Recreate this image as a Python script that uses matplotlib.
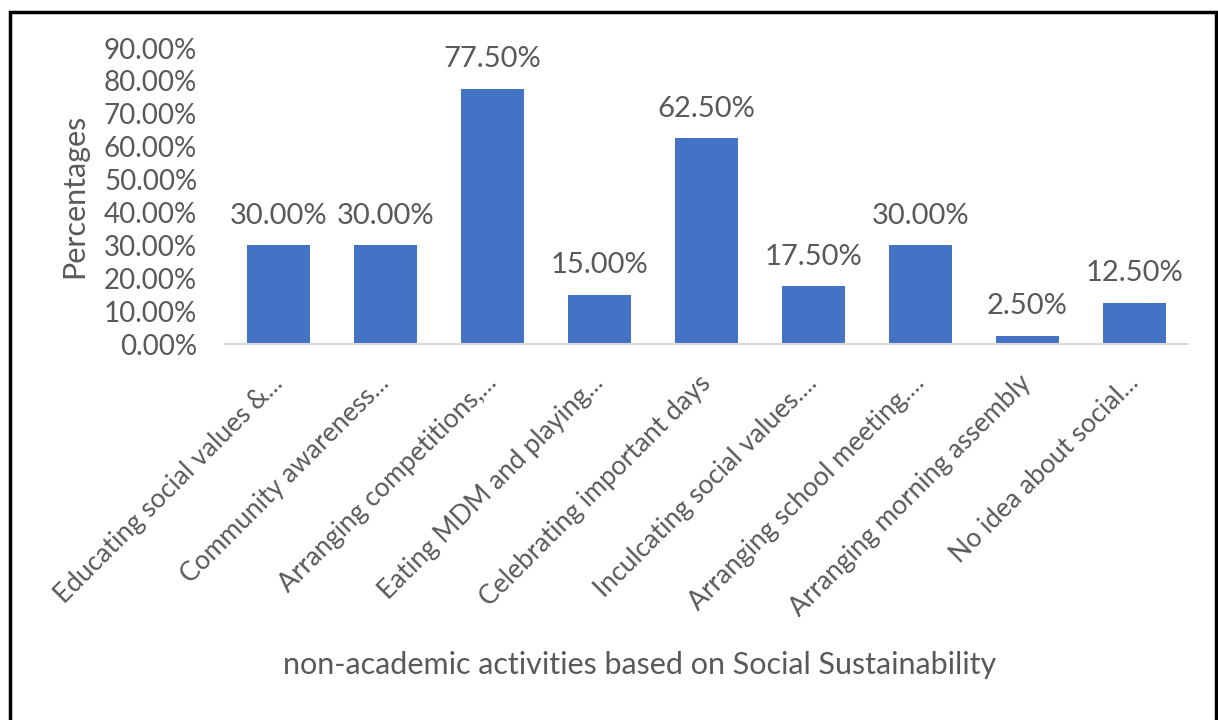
import matplotlib
matplotlib.use("Agg")
import matplotlib.pyplot as plt
from matplotlib.patches import Rectangle
from matplotlib.transforms import ScaledTranslation

categories = [
    "Educating social values &...",
    "Community awareness...",
    "Arranging competitions,...",
    "Eating MDM and playing...",
    "Celebrating important days",
    "Inculcating social values....",
    "Arranging school meeting....",
    "Arranging morning assembly",
    "No idea about social...",
]
values = [30.0, 30.0, 77.5, 15.0, 62.5, 17.5, 30.0, 2.5, 12.5]
yticks = [0, 10, 20, 30, 40, 50, 60, 70, 80, 90]

plt.rcParams['font.family'] = ['Lato', 'DejaVu Sans']
grey = '#595959'

fig = plt.figure(figsize=(12.18, 7.2), dpi=100)
fig.patches.append(Rectangle((10/1218, -0.01), (1216-10)/1218, 1 - 12/720 + 0.01,
                             transform=fig.transFigure, fill=False,
                             edgecolor='black', linewidth=2.5))
ax = fig.add_axes([225/1218, 1 - 344/720, (1188-225)/1218, (344-48)/720])

x = list(range(len(categories)))
bars = ax.bar(x, values, width=0.58, color='#4472C4')
ax.set_ylim(0, 90)
ax.set_xlim(-0.5, len(categories) - 0.5)
ax.set_yticks(yticks)
ax.set_yticklabels([f"{v:.2f}%" for v in yticks], fontsize=20, color=grey)
ax.set_xticks(x)
ax.set_xticklabels([''] * len(categories))
lbl_tr = ax.get_xaxis_transform() + ScaledTranslation(0.0, -0.35, fig.dpi_scale_trans)
for i, c in enumerate(categories):
    ax.text(i, 0, c, transform=lbl_tr, rotation=45, ha='right', va='center',
            rotation_mode='anchor', fontsize=19, color=grey)
ax.tick_params(axis='both', length=0)
ax.tick_params(axis='y', pad=20)
for s in ['top', 'right', 'left']:
    ax.spines[s].set_visible(False)
ax.spines['bottom'].set_color('#D9D9D9')
ax.spines['bottom'].set_linewidth(1.5)

for i, v in enumerate(values):
    ax.annotate(f"{v:.2f}%", (i, v), xytext=(0, 12), textcoords='offset points',
                ha='center', va='bottom', fontsize=21, color=grey)

ax.set_ylabel("Percentages", fontsize=22, color=grey, labelpad=11)
fig.text(640/1218, 1 - 665/720, "non-academic activities based on Social Sustainability",
         ha='center', va='center', fontsize=22, color=grey)

fig.savefig("out.png", dpi=100)
